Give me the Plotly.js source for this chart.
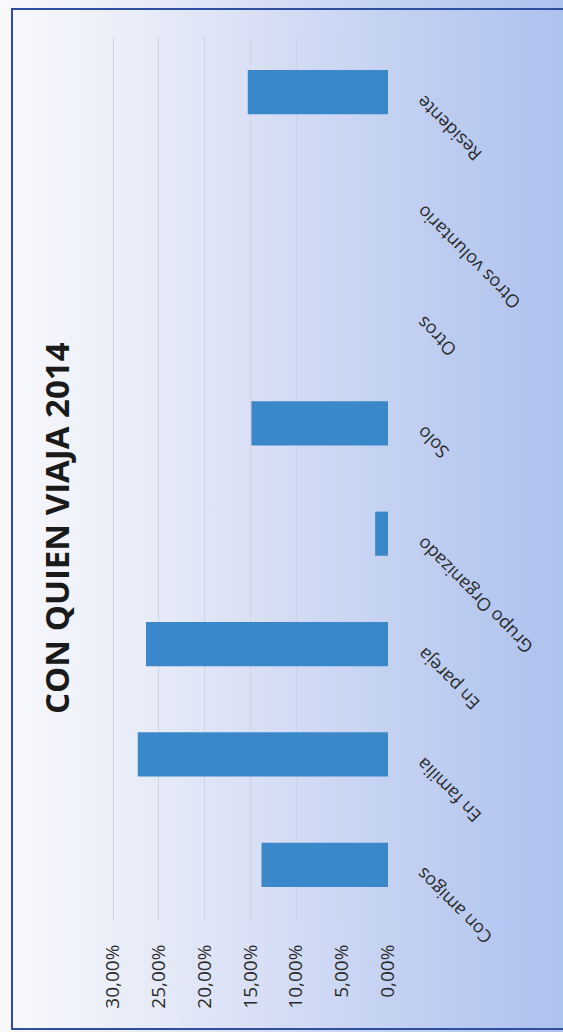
<!DOCTYPE html>
<html>
<head>
<meta charset="utf-8">
<script src="https://cdn.plot.ly/plotly-3.0.1.min.js"></script>
<style>
  html, body { margin: 0; padding: 0; }
  #chart {
    width: 563px; height: 1032px;
    background: linear-gradient(to right, #f9f9fc 0%, #eceff9 20%, #d9e0f6 45%, #c3d1f2 70%, #aec2ee 100%);
  }
</style>
</head>
<body>
<div id="chart"></div>
<script>
// ---- data ----
const categories = ["Con amigos", "En familia", "En pareja", "Grupo Organizado", "Solo", "Otros", "Otros voluntario", "Residente"];
const shares = [0.138, 0.273, 0.264, 0.014, 0.149, 0, 0, 0.153];
const valueTicks = [0, 0.05, 0.10, 0.15, 0.20, 0.25, 0.30];
const valueMax = 0.30;
const chartTitle = "CON QUIEN VIAJA 2014";

// ---- layout geometry (pixels) ----
const W = 563, H = 1032;
const axisL = 113, axisR = 388;          // pixel of 30% and 0%
const pad = 3;                           // tiny extra so the edge gridlines draw
const plotL = axisL - pad, plotR = axisR + pad, plotT = 37, plotB = 920;
const perUnit = (axisR - axisL) / valueMax;
const px = x => (x - plotL) / (plotR - plotL);
const py = y => (plotB - y) / (plotB - plotT);

const trace = {
  type: 'bar',
  orientation: 'h',
  y: categories,
  x: shares,
  marker: { color: '#3a88c9' },
  width: 0.4,
  hoverinfo: 'none'
};

const catAnnotations = categories.map(c => ({
  text: c,
  xref: 'paper', yref: 'y',
  x: px(410), y: c,
  yshift: 3,
  xanchor: 'left', yanchor: 'top',
  textangle: -135,
  showarrow: false,
  borderpad: 0,
  font: { family: 'Open Sans, sans-serif', size: 18, color: '#2a2a2a' }
}));

const layout = {
  width: W, height: H,
  margin: { l: plotL, r: W - plotR, t: plotT, b: H - plotB, pad: 0 },
  paper_bgcolor: 'rgba(0,0,0,0)',
  plot_bgcolor: 'rgba(0,0,0,0)',
  separators: ',.',
  showlegend: false,
  font: { family: 'Open Sans, sans-serif', size: 18, color: '#2a2a2a' },
  xaxis: {
    range: [valueMax + pad / perUnit, -pad / perUnit],
    tickvals: valueTicks,
    tickformat: '.2%',
    tickangle: -90,
    showgrid: true,
    gridcolor: 'rgba(205,208,222,0.9)',
    gridwidth: 1,
    zeroline: false,
    showline: false,
    ticks: 'outside',
    ticklen: 16,
    tickcolor: 'rgba(0,0,0,0)',
    tickfont: { size: 19 },
    fixedrange: true
  },
  yaxis: {
    type: 'category',
    categoryorder: 'array',
    categoryarray: categories,
    range: [-0.5, categories.length - 0.5],
    autorange: false,
    showticklabels: false,
    showgrid: false,
    zeroline: false,
    showline: false,
    fixedrange: true
  },
  annotations: [{
    text: '<b>' + chartTitle + '</b>',
    xref: 'paper', yref: 'paper',
    x: px(56), y: py(528),
    xanchor: 'center', yanchor: 'middle',
    textangle: -90,
    showarrow: false,
    font: { family: 'Open Sans, sans-serif', size: 33, color: '#1a1a1a' }
  }].concat(catAnnotations),
  shapes: [{
    type: 'rect', xref: 'paper', yref: 'paper',
    x0: px(12), x1: px(580), y0: py(1029), y1: py(9),
    line: { color: '#2d4f9e', width: 2 },
    fillcolor: 'rgba(0,0,0,0)',
    layer: 'above'
  }]
};

Plotly.newPlot('chart', [trace], layout, { displayModeBar: false, staticPlot: true });
</script>
</body>
</html>
